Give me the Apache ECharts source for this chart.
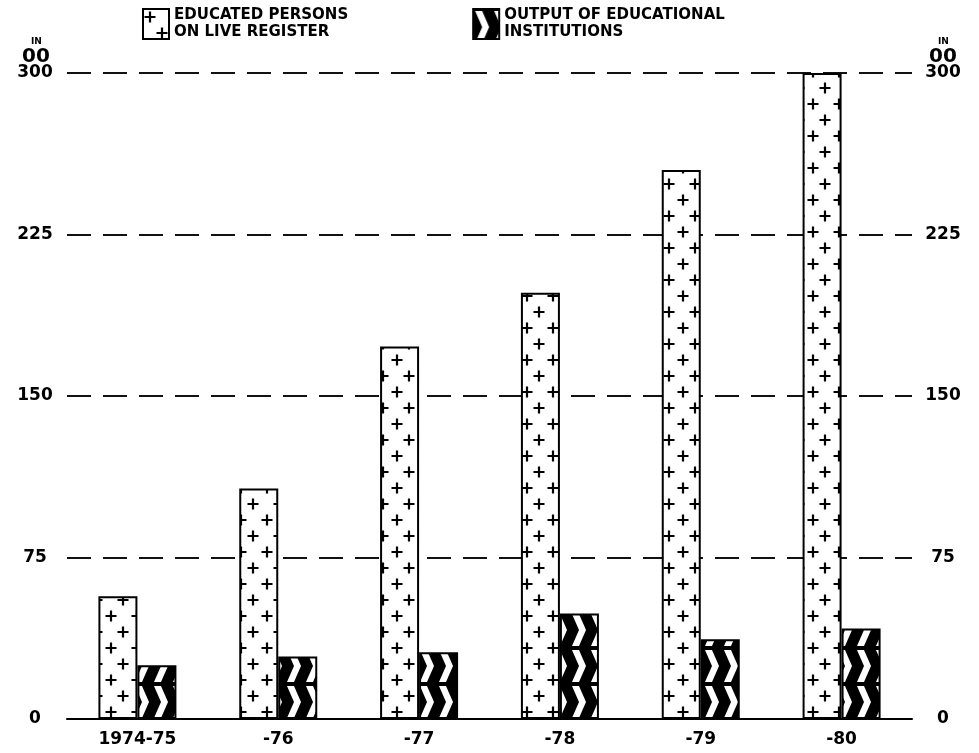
<!DOCTYPE html>
<html>
<head>
<meta charset="utf-8">
<script src="https://cdn.jsdelivr.net/npm/echarts@6/dist/echarts.min.js"></script>
<style>
html,body{margin:0;padding:0;background:#fff;}
#c{width:979px;height:753px;}
</style>
</head>
<body>
<div id="c"></div>
<script>
var categories = ['1974-75', '-76', '-77', '-78', '-79', '-80'];
var seriesNames = ['EDUCATED PERSONS\nON LIVE REGISTER', 'OUTPUT OF EDUCATIONAL\nINSTITUTIONS'];
var educatedPersons = [57, 107, 173, 198, 255, 300];
var outputInstitutions = [25, 29, 31, 49, 37, 42];
var yTickLabels = ['0', '75', '150', '225', '300'];

function plusPattern() {
  var c = document.createElement('canvas');
  c.width = 26; c.height = 32;
  var g = c.getContext('2d');
  g.fillStyle = '#fff'; g.fillRect(0, 0, 26, 32);
  g.strokeStyle = '#000'; g.lineWidth = 2.2;
  function plus(x, y) {
    g.beginPath();
    g.moveTo(x - 5.5, y); g.lineTo(x + 5.5, y);
    g.moveTo(x, y - 5.5); g.lineTo(x, y + 5.5);
    g.stroke();
  }
  plus(7, 8); plus(19, 24);
  return c;
}
function zigPattern() {
  var c = document.createElement('canvas');
  c.width = 19; c.height = 36;
  var g = c.getContext('2d');
  g.fillStyle = '#000'; g.fillRect(0, 0, 19, 36);
  g.fillStyle = '#fff';
  g.beginPath();
  g.moveTo(2, 2); g.lineTo(9, 2); g.lineTo(16, 18); g.lineTo(9, 34);
  g.lineTo(2, 34); g.lineTo(9, 18); g.closePath();
  g.fill();
  return c;
}

var chart = echarts.init(document.getElementById('c'));
var fontFam = 'DejaVu Sans';
var labelStyle = {color: '#000', fontFamily: fontFam, fontWeight: 'bold', fontSize: 17};

chart.setOption({
  animation: false,
  backgroundColor: '#fff',
  grid: {left: 67, right: 67, top: 73, bottom: 34},
  legend: {
    left: 137, top: 2,
    itemWidth: 26, itemHeight: 30, itemGap: 124,
    icon: 'rect',
    textStyle: {color: '#000', fontFamily: fontFam, fontWeight: 'bold', fontSize: 15, lineHeight: 17},
    data: seriesNames
  },
  xAxis: {
    type: 'category',
    data: categories,
    axisLine: {lineStyle: {color: '#000', width: 2}},
    axisTick: {show: false},
    axisLabel: Object.assign({margin: 12}, labelStyle)
  },
  yAxis: [{
    type: 'value', min: 0, max: 300, interval: 75, position: 'left',
    axisLine: {show: false}, axisTick: {show: false},
    axisLabel: Object.assign({margin: 32, align: 'center', formatter: function (v) { return yTickLabels[v / 75]; }}, labelStyle),
    splitLine: {lineStyle: {color: '#111', width: 2, type: [24, 12]}}
  }, {
    type: 'value', min: 0, max: 300, interval: 75, position: 'right',
    axisLine: {show: false}, axisTick: {show: false},
    axisLabel: Object.assign({margin: 31, align: 'center', formatter: function (v) { return yTickLabels[v / 75]; }}, labelStyle),
    splitLine: {show: false}
  }],
  graphic: [
    {type: 'text', left: 31, top: 37, style: {text: 'IN', fill: '#000', font: 'bold 9px DejaVu Sans'}},
    {type: 'text', left: 22, top: 47, style: {text: '00', fill: '#000', font: 'bold 20px DejaVu Sans'}},
    {type: 'text', left: 938, top: 37, style: {text: 'IN', fill: '#000', font: 'bold 9px DejaVu Sans'}},
    {type: 'text', left: 929, top: 47, style: {text: '00', fill: '#000', font: 'bold 20px DejaVu Sans'}}
  ],
  series: [{
    name: seriesNames[0], type: 'bar', data: educatedPersons,
    barWidth: 39, barGap: '0%',
    itemStyle: {color: {image: plusPattern(), repeat: 'repeat'}, borderColor: '#000', borderWidth: 2}
  }, {
    name: seriesNames[1], type: 'bar', data: outputInstitutions,
    barWidth: 39, barGap: '0%',
    itemStyle: {color: {image: zigPattern(), repeat: 'repeat'}, borderColor: '#000', borderWidth: 2}
  }]
});
</script>
</body>
</html>
